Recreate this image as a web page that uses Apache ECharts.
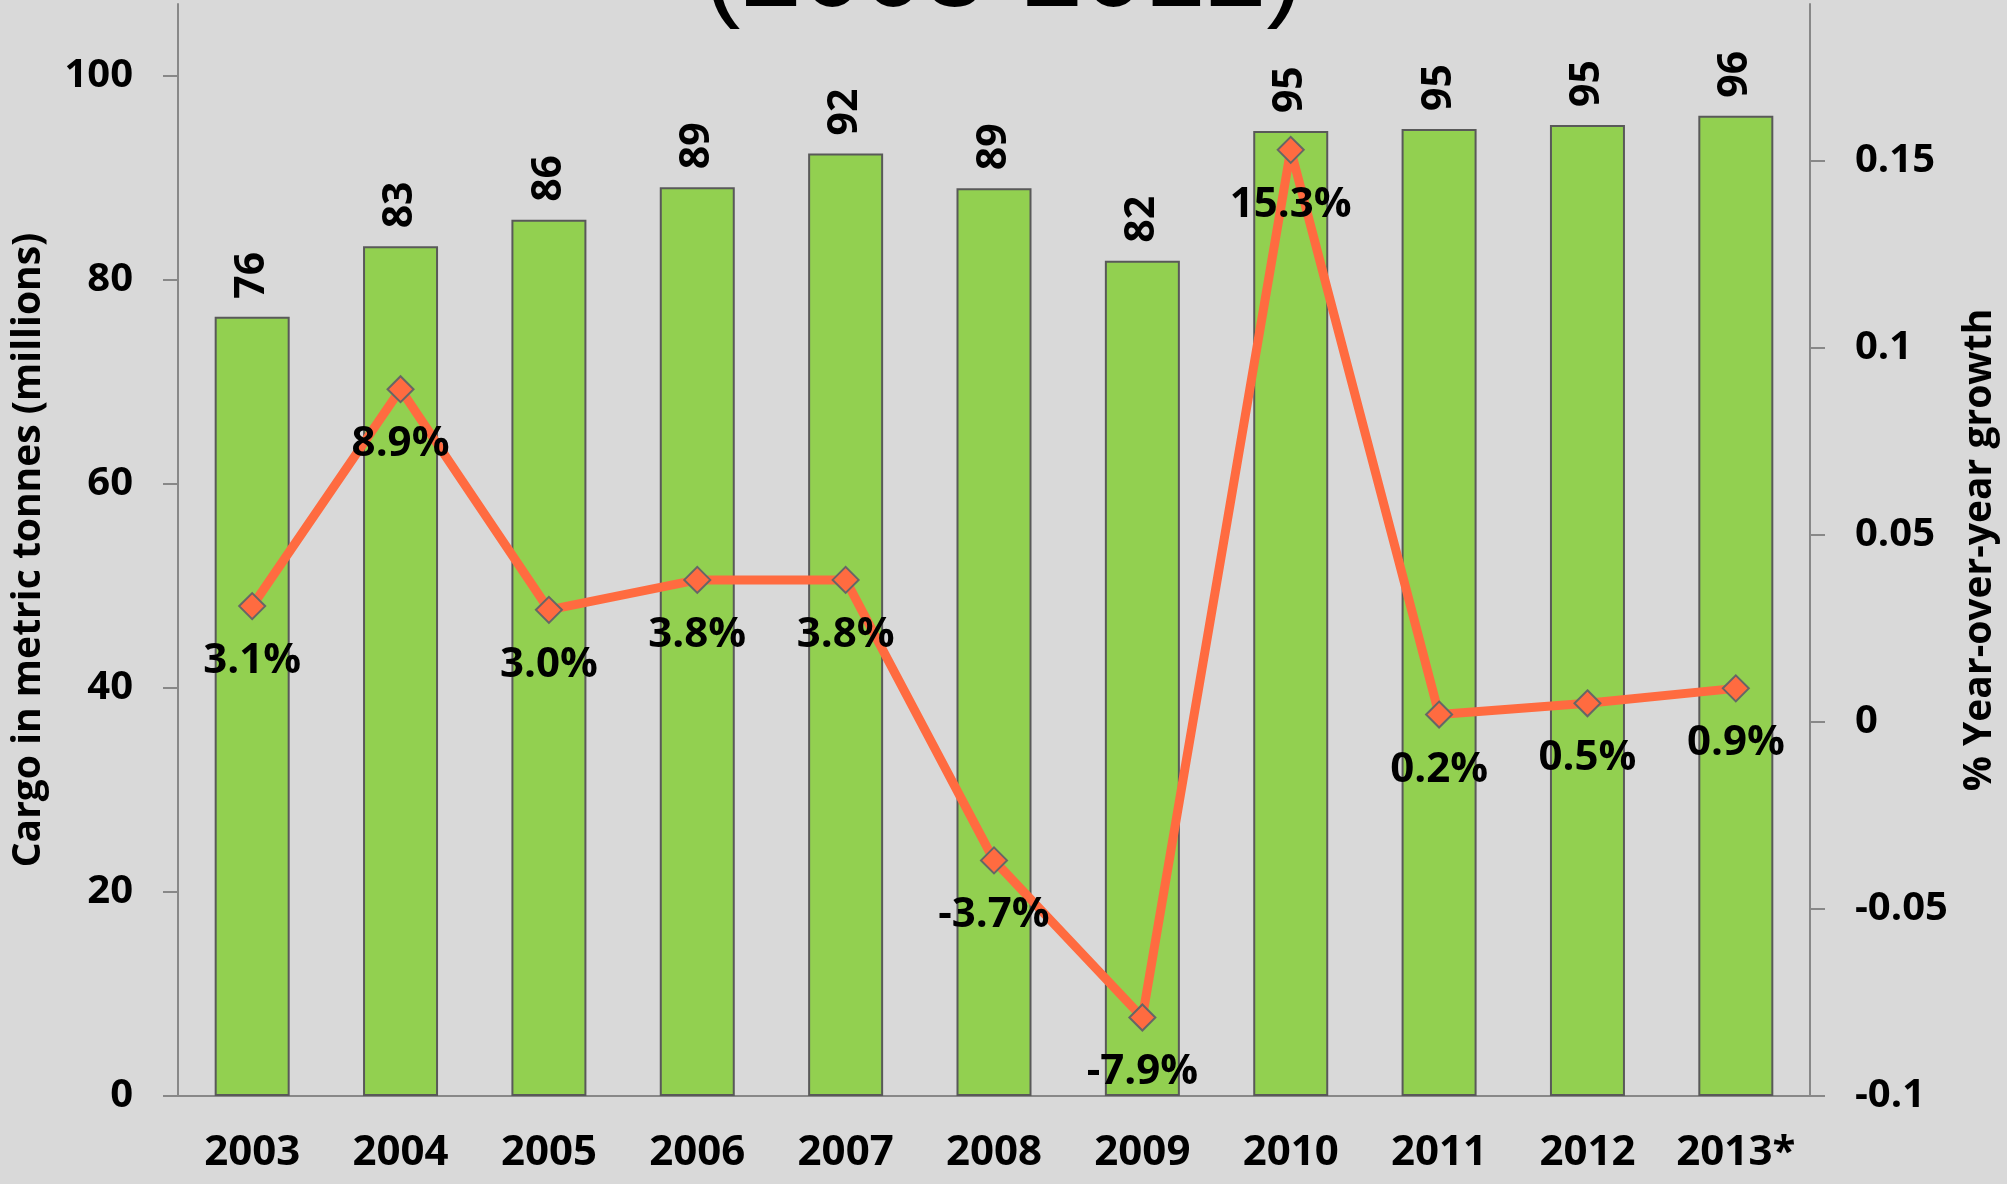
<!DOCTYPE html>
<html>
<head>
<meta charset="UTF-8">
<title>Cargo 2003-2013</title>
<script src="https://cdn.jsdelivr.net/npm/echarts@6.0.0/dist/echarts.min.js"></script>
<style>
    html, body { margin: 0; padding: 0; background: #D9D9D9; }
    #chart { width: 2007px; height: 1184px; }
</style>
</head>
<body>
<div id="chart"></div>
<script>
// categories and values
var years = ['2003', '2004', '2005', '2006', '2007', '2008', '2009', '2010', '2011', '2012', '2013*'];
var cargo = [76.4, 83.3, 85.9, 89.1, 92.4, 89.0, 81.9, 94.6, 94.8, 95.2, 96.1];
var growth = [0.031, 0.089, 0.030, 0.038, 0.038, -0.037, -0.079, 0.153, 0.002, 0.005, 0.009];
var leftTicks = [0, 20, 40, 60, 80, 100];
var rightTicks = [-0.1, -0.05, 0, 0.05, 0.1, 0.15];

var FONT = "'Open Sans', 'Liberation Sans', sans-serif";

var chart = echarts.init(document.getElementById('chart'));

chart.setOption({
    backgroundColor: '#D9D9D9',
    animation: false,
    title: {
        text: '(2003-2012)',
        left: 'center',
        top: -84,
        textStyle: {
            fontFamily: "'Liberation Sans', sans-serif",
            fontWeight: 'normal',
            fontSize: 110,
            lineHeight: 110,
            color: '#000'
        }
    },
    // plot area runs off the top of the picture, as in the cropped original
    grid: { left: 178, right: 192, top: 4, bottom: 88 },
    xAxis: {
        type: 'category',
        data: years,
        axisLine: { lineStyle: { color: '#888', width: 2 } },
        axisTick: { show: false },
        axisLabel: {
            interval: 0,
            margin: 36,
            color: '#000',
            fontFamily: FONT,
            fontWeight: 'bold',
            fontSize: 42
        }
    },
    yAxis: [
        {
            type: 'value',
            min: 0,
            max: 107.06,
            name: 'Cargo in metric tonnes (millions)',
            nameLocation: 'middle',
            nameRotate: 90,
            nameGap: 130,
            nameTextStyle: { color: '#000', fontFamily: FONT, fontWeight: 'bold', fontSize: 39 },
            splitLine: { show: false },
            axisLine: { show: true, lineStyle: { color: '#888', width: 2 } },
            axisTick: { show: true, length: 15, customValues: leftTicks, lineStyle: { color: '#888', width: 2 } },
            axisLabel: {
                customValues: leftTicks,
                margin: 45,
                color: '#000',
                fontFamily: FONT,
                fontWeight: 'bold',
                fontSize: 40
            }
        },
        {
            type: 'value',
            position: 'right',
            min: -0.1,
            max: 0.192,
            name: '% Year-over-year growth',
            nameLocation: 'middle',
            nameRotate: 90,
            nameGap: 150,
            nameTextStyle: { color: '#000', fontFamily: FONT, fontWeight: 'bold', fontSize: 39 },
            splitLine: { show: false },
            axisLine: { show: true, lineStyle: { color: '#888', width: 2 } },
            axisTick: { show: true, length: 15, customValues: rightTicks, lineStyle: { color: '#888', width: 2 } },
            axisLabel: {
                customValues: rightTicks,
                margin: 45,
                color: '#000',
                fontFamily: FONT,
                fontWeight: 'bold',
                fontSize: 40,
                formatter: function (v) {
                    return Math.round(v * 100) / 100 + '';
                }
            }
        }
    ],
    series: [
        {
            type: 'bar',
            data: cargo,
            barWidth: 75,
            itemStyle: { color: '#92D050', borderColor: '#595959', borderWidth: 2 },
            label: {
                show: true,
                position: 'top',
                rotate: 90,
                align: 'left',
                verticalAlign: 'middle',
                distance: 18,
                color: '#000',
                fontFamily: FONT,
                fontWeight: 'bold',
                fontSize: 41,
                formatter: function (p) { return Math.round(p.value); }
            }
        },
        {
            type: 'line',
            yAxisIndex: 1,
            data: growth,
            symbol: 'diamond',
            symbolSize: 26,
            lineStyle: { color: '#FF6B40', width: 9 },
            itemStyle: { color: '#FF6B40', borderColor: '#666', borderWidth: 2 },
            label: {
                show: true,
                position: 'bottom',
                distance: 20,
                color: '#000',
                fontFamily: FONT,
                fontWeight: 'bold',
                fontSize: 42,
                formatter: function (p) { return (p.value * 100).toFixed(1) + '%'; }
            }
        }
    ]
});
</script>
</body>
</html>
